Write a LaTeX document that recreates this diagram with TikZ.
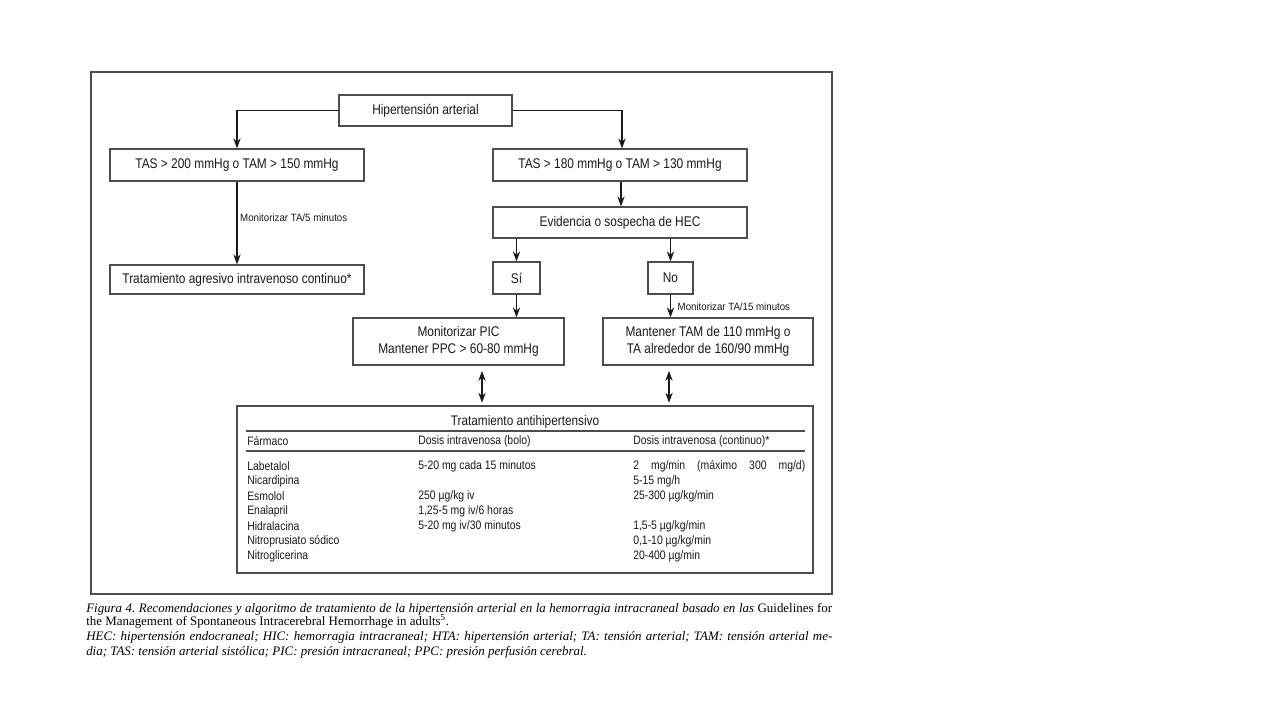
\documentclass[tikz,border=0pt]{standalone}
\usepackage{fontspec}
\setmainfont{Liberation Serif}
\newfontfamily\cond[FakeStretch=0.85]{Liberation Sans}
\newfontfamily\condl[FakeStretch=0.92]{Liberation Sans}
\usetikzlibrary{arrows.meta}
\definecolor{ink}{HTML}{1A1A1A}
\definecolor{frame}{HTML}{4D4D4D}
\frenchspacing
\begin{document}
\begin{tikzpicture}[x=0.75pt,y=-0.75pt,
  sz/.style 2 args={minimum width=#1*0.75pt, minimum height=#2*0.75pt},
  box/.style={draw=frame, line width=0.9pt, inner sep=0pt, text=ink,
    font=\cond\fontsize{10.5}{12.5}\selectfont, align=center},
  lbl/.style={text=ink, font=\condl\fontsize{7.9}{9}\selectfont, inner sep=2pt},
  arr/.style={draw=ink, line width=0.8pt, -{Stealth[length=7.5pt,width=5.5pt]}},
  darr/.style={draw=ink, line width=0.8pt, {Stealth[length=7.5pt,width=5.5pt]}-{Stealth[length=7.5pt,width=5.5pt]}},
  tx/.style={text=ink, font=\cond\fontsize{9.2}{10}\selectfont, inner sep=0pt, anchor=west},
  captxt/.style={font=\fontsize{9.7}{11}\selectfont, inner sep=0pt, anchor=base west}]
\useasboundingbox (0,0) rectangle (1280,720);
\fill[white] (0,0) rectangle (1280,720);
% outer frame
\draw[frame, line width=0.9pt] (91,72) rectangle (832,594);

\node[box, sz={173}{31}] (hta) at (425.5,110.5) {Hipertensión arterial};
\node[box, sz={254}{32}] (tas200) at (237,165) {TAS > 200 mmHg o TAM > 150 mmHg};
\node[box, sz={254}{32}] (tas180) at (620,165) {TAS > 180 mmHg o TAM > 130 mmHg};
\node[box, sz={254}{29}] (trat) at (237,279.5) {Tratamiento agresivo intravenoso continuo*};
\node[box, sz={254}{31}] (evid) at (620,222.5) {Evidencia o sospecha de HEC};
\node[box, sz={47}{32}] (si) at (516.5,278) {Sí};
\node[box, sz={45}{32}] (no) at (670.5,278) {No};
\node[box, sz={211}{47}] (pic) at (458.5,341.5) {Monitorizar PIC\\Mantener PPC > 60-80 mmHg};
\node[box, sz={210}{47}] (tam) at (708,341.5) {Mantener TAM de 110 mmHg o\\TA alrededor de 160/90 mmHg};
\node[box, sz={576}{167}] (tabla) at (525,489.5) {};

\draw[arr] (hta.west) -| (tas200.north);
\draw[arr] (hta.east) -| ([xshift=1.5pt]tas180.north);
\draw[arr] (tas200.south) -- node[lbl, right, pos=0.44] {Monitorizar TA/5 minutos} (trat.north);
\draw[arr] ([xshift=0.75pt]tas180.south) -- ([xshift=0.75pt]evid.north);
\draw[arr] (evid.south -| si) -- (si.north);
\draw[arr] (evid.south -| no) -- (no.north);
\draw[arr] (si.south) -- (si.south |- pic.north);
\draw[arr] (no.south) -- node[lbl, right, pos=0.55, xshift=3pt] {Monitorizar TA/15 minutos} (no.south |- tam.north);

\coordinate (d1) at (482,0);
\coordinate (d2) at (669,0);
\draw[darr, shorten <=4pt, shorten >=2pt] (pic.south -| d1) -- (tabla.north -| d1);
\draw[darr, shorten <=4pt, shorten >=2pt] (tam.south -| d2) -- (tabla.north -| d2);

% table contents
\node[tx, anchor=center, font=\cond\fontsize{10.4}{11}\selectfont] (ttl) at (525,422) {Tratamiento antihipertensivo};
\draw[frame, line width=1pt] (246,431) -- (805,431);
\draw[frame, line width=1pt] (246,451) -- (805,451);
\node[tx] (h1) at (247,441) {Fármaco};
\node[tx] (h2) at (418,441) {Dosis intravenosa (bolo)};
\node[tx] (h3) at (633,441) {Dosis intravenosa (continuo)*};

\node[tx] (a1) at (247,466) {Labetalol};
\node[tx] (a2) at (247,481) {Nicardipina};
\node[tx] (a3) at (247,496) {Esmolol};
\node[tx] (a4) at (247,511) {Enalapril};
\node[tx] (a5) at (247,526) {Hidralacina};
\node[tx] (a6) at (247,541) {Nitroprusiato sódico};
\node[tx] (a7) at (247,556) {Nitroglicerina};

\node[tx] (b1) at (418,466) {5-20 mg cada 15 minutos};
\node[tx] (b3) at (418,496) {250 µg/kg iv};
\node[tx] (b4) at (418,511) {1,25-5 mg iv/6 horas};
\node[tx] (b5) at (418,526) {5-20 mg iv/30 minutos};

\node[tx] (c1) at (633,466) {\makebox[129pt][s]{2 mg/min (máximo 300 mg/d)}};
\node[tx] (c2) at (633,481) {5-15 mg/h};
\node[tx] (c3) at (633,496) {25-300 µg/kg/min};
\node[tx] (c5) at (633,526) {1,5-5 µg/kg/min};
\node[tx] (c6) at (633,541) {0,1-10 µg/kg/min};
\node[tx] (c7) at (633,556) {20-400 µg/min};

% caption
\node[captxt] (cap1) at (86,612) {\makebox[559.5pt][s]{\itshape Figura 4. Recomendaciones y algoritmo de tratamiento de la hipertensión arterial en la hemorragia intracraneal basado en las \upshape Guidelines for}};
\node[captxt] (cap2) at (86,625) {the Management of Spontaneous Intracerebral Hemorrhage in adults\textsuperscript{5}.};
\node[captxt] (cap3) at (86,640) {\makebox[559.5pt][s]{\itshape HEC: hipertensión endocraneal; HIC: hemorragia intracraneal; HTA: hipertensión arterial; TA: tensión arterial; TAM: tensión arterial me-}};
\node[captxt] (cap4) at (86,655) {\itshape dia; TAS: tensión arterial sistólica; PIC: presión intracraneal; PPC: presión perfusión cerebral.};
\end{tikzpicture}
\end{document}
